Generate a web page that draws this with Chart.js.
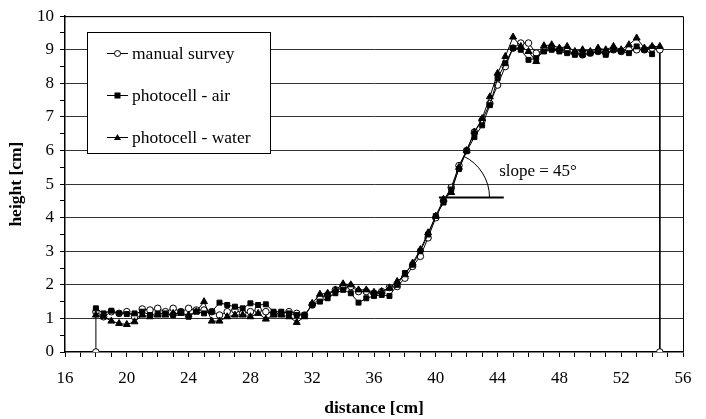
<!DOCTYPE html>
<html>
<head>
<meta charset="utf-8">
<script src="https://cdn.jsdelivr.net/npm/chart.js@4"></script>
<style>
html,body{margin:0;padding:0;background:#fff;}
#wrap{width:706px;height:419px;position:relative;}
</style>
</head>
<body>
<div id="wrap"><canvas id="c" width="706" height="419"></canvas></div>
<script>
// distance positions [cm]
const distance = [18,18.5,19,19.5,20,20.5,21,21.5,22,22.5,23,23.5,24,24.5,25,25.5,26,26.5,27,27.5,28,28.5,29,29.5,30,30.5,31,31.5,32,32.5,33,33.5,34,34.5,35,35.5,36,36.5,37,37.5,38,38.5,39,39.5,40,40.5,41,41.5,42,42.5,43,43.5,44,44.5,45,45.5,46,46.5,47,47.5,48,48.5,49,49.5,50,50.5,51,51.5,52,52.5,53,53.5,54,54.5];
const manualSurvey = [1.2,1.05,1.2,1.15,1.2,1.05,1.28,1.25,1.3,1.2,1.3,1.2,1.3,1.25,1.25,1.2,1.1,1.2,1.25,1.15,1.2,1.25,1.2,1.15,1.15,1.2,1.15,1.1,1.4,1.6,1.7,1.85,1.9,1.95,1.8,1.8,1.75,1.8,1.92,1.95,2.2,2.55,2.85,3.4,4.0,4.5,4.9,5.55,6.0,6.55,6.9,7.4,7.95,8.5,9.05,9.2,9.2,8.9,9.0,9.05,9.0,8.95,8.9,8.85,8.9,8.95,8.9,9.0,8.95,9.0,9.0,9.0,9.05,9.0];
const photocellAir = [1.3,1.15,1.23,1.15,1.13,1.15,1.2,1.1,1.15,1.15,1.1,1.2,1.05,1.2,1.15,1.2,1.47,1.4,1.35,1.3,1.45,1.4,1.42,1.2,1.2,1.15,1.1,1.1,1.4,1.5,1.6,1.75,1.85,1.75,1.47,1.6,1.67,1.7,1.67,2.0,2.35,2.6,3.0,3.5,4.05,4.45,4.84,5.45,5.98,6.4,6.75,7.35,8.15,8.6,9.05,9.0,8.7,8.75,8.95,9.0,8.95,8.9,8.85,8.85,8.9,8.95,8.85,9.0,8.95,8.9,9.1,9.0,8.87,null];
const photocellWater = [1.1,1.05,0.92,0.85,0.82,0.9,1.1,1.05,1.1,1.1,1.15,1.15,1.1,1.2,1.5,0.92,0.92,1.05,1.1,1.1,1.05,1.15,0.98,1.1,1.1,1.05,0.88,1.05,1.45,1.72,1.75,1.85,2.03,2.0,1.85,1.85,1.78,1.8,1.9,2.1,2.3,2.65,3.05,3.55,4.05,4.55,4.75,5.5,6.0,6.55,6.95,7.6,8.3,8.8,9.38,9.1,8.95,8.65,9.12,9.15,9.05,9.1,8.95,9.0,8.95,9.05,9.0,9.1,9.0,9.15,9.35,9.05,9.1,9.1];
// survey end posts (manual survey drops to bed level at both ends)
const surveyStart = {x:18, y:0};
const surveyEnd = {x:54.5, y:0};
const seriesNames = ['manual survey','photocell - air','photocell - water'];
const xTickLabels = [16,20,24,28,32,36,40,44,48,52,56];
const yTickLabels = [0,1,2,3,4,5,6,7,8,9,10];
const slopeText = 'slope = 45°';

function pts(arr){ const o=[]; arr.forEach((v,i)=>{ if(v!==null) o.push({x:distance[i],y:v}); }); return o; }
const manualPts = [surveyStart].concat(pts(manualSurvey)).concat([surveyEnd]);

const FONT = "'Liberation Serif', 'Times New Roman', serif";

const overlay = {
  id:'overlay',
  beforeDatasetsDraw(chart){
    const {ctx, chartArea:a} = chart;
    ctx.save();
    ctx.strokeStyle='#000'; ctx.lineWidth=1;
    ctx.beginPath();
    ctx.moveTo(a.left, a.top+0.5); ctx.lineTo(a.right+0.5, a.top+0.5); ctx.lineTo(a.right+0.5, a.bottom);
    ctx.stroke();
    ctx.restore();
  },
  afterDatasetsDraw(chart){
    const {ctx, scales:{x,y}} = chart;
    ctx.save();
    // slope annotation
    const yy = y.getPixelForValue(4.6);
    ctx.strokeStyle='#000'; ctx.lineWidth=2;
    ctx.beginPath(); ctx.moveTo(x.getPixelForValue(40.2), yy); ctx.lineTo(x.getPixelForValue(44.4), yy); ctx.stroke();
    ctx.lineWidth=1;
    const cx = x.getPixelForValue(40.5);
    const dx = x.getPixelForValue(42)-x.getPixelForValue(40), dy = y.getPixelForValue(6.0)-y.getPixelForValue(4.1);
    const ang = Math.atan2(dy, dx);
    ctx.beginPath(); ctx.arc(cx, yy, 46, ang, 0); ctx.stroke();
    ctx.fillStyle='#000'; ctx.font='17px '+FONT; ctx.textBaseline='middle'; ctx.textAlign='left';
    ctx.fillText(slopeText, x.getPixelForValue(44.1), y.getPixelForValue(5.36));
    ctx.restore();
  },
  afterDraw(chart){
    const {ctx} = chart;
    ctx.save();
    const L=87.5, T=32.5, W=183, H=121;
    ctx.fillStyle='#fff'; ctx.fillRect(L,T,W,H);
    ctx.strokeStyle='#000'; ctx.lineWidth=1; ctx.strokeRect(L,T,W,H);
    const ys=[53,95,137];
    ctx.font='17.5px '+FONT; ctx.textBaseline='middle'; ctx.textAlign='left';
    for(let i=0;i<3;i++){
      const yv=ys[i]+0.5;
      ctx.strokeStyle='#000'; ctx.lineWidth=1;
      ctx.beginPath(); ctx.moveTo(107,yv); ctx.lineTo(128,yv); ctx.stroke();
      const mx=117.5;
      ctx.fillStyle='#000';
      if(i===0){ ctx.fillStyle='#fff'; ctx.beginPath(); ctx.arc(mx,yv,3,0,Math.PI*2); ctx.fill(); ctx.stroke(); }
      else if(i===1){ ctx.fillRect(mx-3,yv-3,6,6); }
      else { ctx.beginPath(); ctx.moveTo(mx,yv-3.5); ctx.lineTo(mx+3.5,yv+2.5); ctx.lineTo(mx-3.5,yv+2.5); ctx.closePath(); ctx.fill(); }
      ctx.fillStyle='#000';
      ctx.fillText(seriesNames[i], 132, ys[i]+1);
    }
    ctx.restore();
  }
};

new Chart(document.getElementById('c'), {
  type:'scatter',
  data:{ datasets:[
    {label:seriesNames[1], data:pts(photocellAir), showLine:true, borderColor:'#000', borderWidth:1, backgroundColor:'#000', pointStyle:'rect', pointRadius:3.5, pointBorderWidth:1, pointBorderColor:'#000'},
    {label:seriesNames[2], data:pts(photocellWater), showLine:true, borderColor:'#000', borderWidth:1, backgroundColor:'#000', pointStyle:'triangle', pointRadius:4, pointBorderWidth:1, pointBorderColor:'#000'},
    {label:seriesNames[0], data:manualPts, showLine:true, borderColor:'#000', borderWidth:1, backgroundColor:'#fff', pointStyle:'circle', pointRadius:3.3, pointBorderWidth:1, pointBorderColor:'#000'}
  ]},
  options:{
    responsive:false, animation:false, devicePixelRatio:1,
    layout:{padding:{top:16,right:23,left:0,bottom:0}},
    plugins:{legend:{display:false}, tooltip:{enabled:false}},
    elements:{line:{tension:0}},
    scales:{
      x:{type:'linear', min:16, max:56,
        afterFit(s){ s.height=67; },
        border:{display:true,color:'#000',width:1.5},
        grid:{drawOnChartArea:false, drawTicks:true, tickLength:5, tickColor:'#000', tickWidth:1},
        ticks:{stepSize:1, autoSkip:false, maxRotation:0, color:'#000', font:{family:FONT,size:17}, padding:11,
          callback(v){ return xTickLabels.includes(v) ? String(v) : ''; }},
        title:{display:true, text:'distance [cm]', color:'#000', font:{family:FONT,size:17.5,weight:'bold'}, padding:{top:2,bottom:0}}
      },
      y:{type:'linear', min:0, max:10,
        afterFit(s){ s.width=65; },
        border:{display:true,color:'#000',width:1.5},
        grid:{drawTicks:true, tickLength:5, tickColor:'#000', tickWidth:1,
          color(c){ return (c.tick && Number.isInteger(c.tick.value) && c.tick.value>0) ? '#333' : 'rgba(0,0,0,0)'; }},
        ticks:{stepSize:0.5, autoSkip:false, color:'#000', font:{family:FONT,size:17}, padding:6,
          callback(v){ return yTickLabels.includes(v) ? String(v) : ''; }},
        title:{display:true, text:'height [cm]', color:'#000', font:{family:FONT,size:17.5,weight:'bold'}, padding:{top:6,bottom:0}}
      }
    }
  },
  plugins:[overlay]
});
</script>
</body>
</html>
